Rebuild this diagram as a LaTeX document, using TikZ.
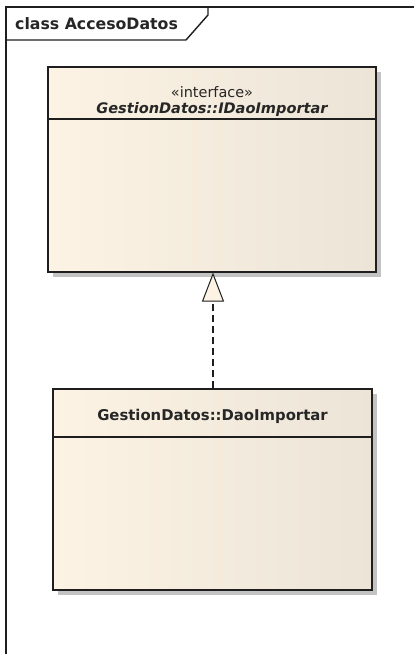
\documentclass[tikz,border=0pt]{standalone}
\usepackage{fontspec}
\setmainfont{DejaVu Sans}
\usetikzlibrary{arrows.meta}
\definecolor{boxL}{RGB}{252,243,228}
\definecolor{boxR}{RGB}{236,228,215}
\definecolor{shadowgray}{RGB}{195,195,195}
\definecolor{lineC}{RGB}{30,30,30}
\tikzset{
  umlbox/.style={draw=lineC, line width=1.1bp, left color=boxL, right color=boxR, inner sep=0pt},
  boxshadow/.style={fill=shadowgray, draw=none},
  frameline/.style={draw=lineC, line width=1.4bp},
  lbl/.style={inner sep=0pt, text=black!85},
  realize/.style={draw=lineC, line width=1.1bp, dash pattern=on 7bp off 4bp, -{Triangle[open, length=29bp, width=22bp, line width=1bp, fill=boxL]}}
}
\begin{document}
\begin{tikzpicture}[x=1bp,y=-1bp]
\useasboundingbox (0,0) rectangle (414,654);
% frame
\draw[frameline] (6,654) -- (6,7) -- (414,7);
\draw[frameline] (6,40) -- (186,40) -- (208,15) -- (208,7);
\node[lbl, anchor=west, font=\bfseries\fontsize{15.8}{18}\selectfont] (title) at (15,24) {class AccesoDatos};
% shadows
\fill[boxshadow] (53,72) rectangle (381,277);
\fill[boxshadow] (58,394) rectangle (377,595);
% interface box
\node[umlbox, minimum width=328bp, minimum height=205bp] (iface) at (212,169.5) {};
\draw[draw=lineC, line width=1.1bp] (iface.west |- 0,119) -- (iface.east |- 0,119);
\node[lbl, font=\fontsize{14.5}{16}\selectfont] (stereo) at (212,92) {«interface»};
\node[lbl, font=\bfseries\itshape\fontsize{14.6}{16}\selectfont] (ifname) at (212,109) {GestionDatos::IDaoImportar};
% class box
\node[umlbox, minimum width=319bp, minimum height=201bp] (impl) at (212.5,489.5) {};
\draw[draw=lineC, line width=1.1bp] (impl.west |- 0,437) -- (impl.east |- 0,437);
\node[lbl, font=\bfseries\fontsize{14.9}{17}\selectfont] (implname) at (212.5,416) {GestionDatos::DaoImportar};
% realization
\draw[realize] (impl.north -| 213,0) -- (iface.south -| 213,0);
\end{tikzpicture}
\end{document}
